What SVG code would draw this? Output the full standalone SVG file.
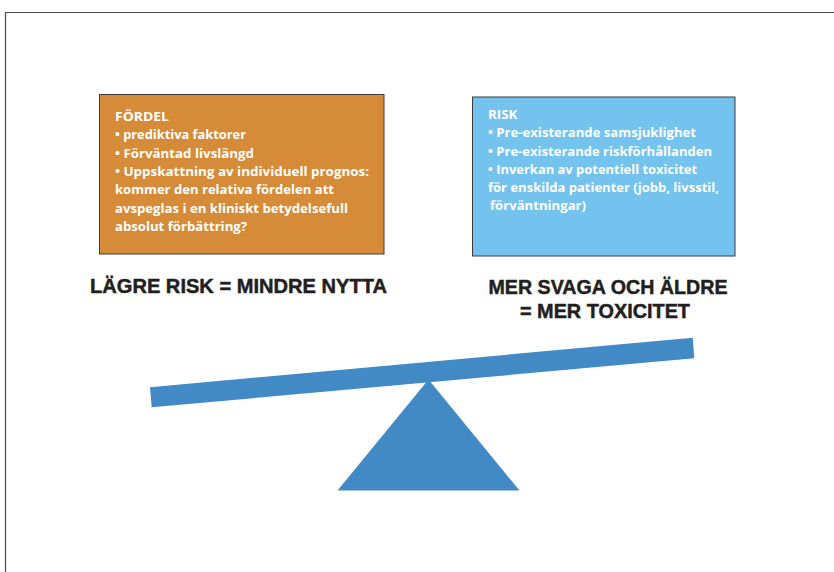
<svg xmlns="http://www.w3.org/2000/svg" width="834" height="572" viewBox="0 0 834 572">
  <style>
    .box-text { font-family: "Open Sans", "Liberation Sans", Arial, sans-serif; font-weight: bold; font-size: 12.8px; fill: #ffffff; }
    .head { font-family: "Liberation Sans", Arial, sans-serif; font-weight: bold; font-size: 20.5px; fill: #231f20; stroke: #231f20; stroke-width: 0.5px; }
    .seesaw { fill: #418ac6; }
  </style>
  <rect width="834" height="572" fill="#ffffff"/>
  <!-- page frame -->
  <path d="M5.5 572 V12.5 H834" fill="none" stroke="#4a4a4a" stroke-width="1.2"/>

  <g id="fordel">
    <rect x="99.5" y="94.5" width="284.5" height="159.5" fill="#d68b38" stroke="#3c3c3c" stroke-width="1"/>
    <text class="box-text" x="115" y="121" textLength="54" lengthAdjust="spacingAndGlyphs">FÖRDEL</text>
    <text class="box-text" x="115" y="139" textLength="131" lengthAdjust="spacingAndGlyphs">• prediktiva faktorer</text>
    <text class="box-text" x="115" y="157.5" textLength="139" lengthAdjust="spacingAndGlyphs">• Förväntad livslängd</text>
    <text class="box-text" x="115" y="176" textLength="254" lengthAdjust="spacingAndGlyphs">• Uppskattning av individuell prognos:</text>
    <text class="box-text" x="115" y="194" textLength="219" lengthAdjust="spacingAndGlyphs">kommer den relativa fördelen att</text>
    <text class="box-text" x="115" y="212.5" textLength="233" lengthAdjust="spacingAndGlyphs">avspeglas i en kliniskt betydelsefull</text>
    <text class="box-text" x="115" y="230.5" textLength="132" lengthAdjust="spacingAndGlyphs">absolut förbättring?</text>
  </g>

  <g id="risk">
    <rect x="472.5" y="97" width="262.5" height="159" fill="#74c2ee" stroke="#3c3c3c" stroke-width="1"/>
    <text class="box-text" x="488" y="119" textLength="29.5" lengthAdjust="spacingAndGlyphs">RISK</text>
    <text class="box-text" x="488" y="137" textLength="208" lengthAdjust="spacingAndGlyphs">• Pre-existerande samsjuklighet</text>
    <text class="box-text" x="488" y="155.5" textLength="224" lengthAdjust="spacingAndGlyphs">• Pre-existerande riskförhållanden</text>
    <text class="box-text" x="488" y="173.5" textLength="209" lengthAdjust="spacingAndGlyphs">• Inverkan av potentiell toxicitet</text>
    <text class="box-text" x="488" y="192" textLength="231" lengthAdjust="spacingAndGlyphs">för enskilda patienter (jobb, livsstil,</text>
    <text class="box-text" x="490" y="210" textLength="96" lengthAdjust="spacingAndGlyphs">förväntningar)</text>
  </g>

  <g id="lower-risk-label">
    <text class="head" x="90" y="293" textLength="297" lengthAdjust="spacingAndGlyphs">LÄGRE RISK = MINDRE NYTTA</text>
  </g>

  <g id="frail-label">
    <text class="head" x="488.5" y="294" textLength="239" lengthAdjust="spacingAndGlyphs">MER SVAGA OCH ÄLDRE</text>
    <text class="head" x="520" y="318" textLength="170" lengthAdjust="spacingAndGlyphs">= MER TOXICITET</text>
  </g>

  <g id="seesaw">
    <polygon class="seesaw" points="150,387.3 692.7,337.7 694.3,358.3 151.7,407.3"/>
    <polygon class="seesaw" points="428.5,379.5 519.5,490.5 337.5,490.5"/>
  </g>
</svg>
